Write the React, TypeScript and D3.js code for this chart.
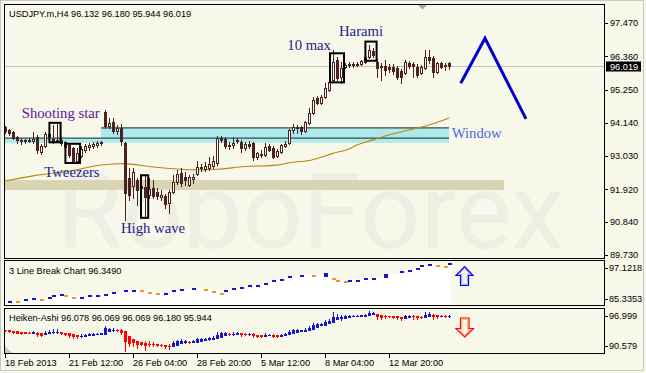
import React from "react";
import * as d3 from "d3";

// ---------- DATA ----------
const opens = [
  94.0, 93.9, 93.83, 93.66, 93.56, 93.53, 93.56, 93.53, 93.66, 93.16,
  93.36, 93.77, 93.6, 93.53, 93.56, 93.49, 93.39, 93.29, 92.86, 93.03,
  93.23, 93.33, 93.36, 93.39, 93.46, 94.5, 94.03, 94.16, 93.87, 93.96,
  93.46, 92.29, 92.03, 92.23, 91.96, 91.99, 91.73, 91.96, 91.83, 91.66,
  91.69, 91.46, 91.83, 92.16, 92.46, 92.33, 92.06, 92.26, 92.43, 92.63,
  92.59, 92.63, 92.69, 92.79, 93.63, 93.6, 93.36, 93.39, 93.56, 93.49,
  93.29, 93.43, 93.46, 92.99, 93.09, 93.06, 93.36, 93.29, 93.03, 93.16,
  93.36, 93.46, 93.9, 93.96, 94.0, 93.87, 94.13, 94.47, 94.97, 94.8,
  95.0, 95.23, 95.57, 96.24, 95.67, 96.0, 96.1, 96.07, 96.1, 96.1,
  96.17, 96.34, 96.54, 96.17, 96.0, 96.04, 96.0, 96.0, 95.97, 95.87,
  95.8, 96.14, 96.1, 96.0, 95.8, 95.97, 96.34, 96.3, 95.84, 96.14,
  96.07, 96.132,
];
const highs = [
  94.03, 93.93, 93.87, 93.7, 93.63, 93.6, 93.63, 93.83, 93.73, 93.43,
  93.83, 93.9, 94.06, 94.1, 93.63, 93.53, 93.43, 93.33, 93.29, 93.36,
  93.43, 93.46, 93.49, 93.53, 93.53, 94.57, 94.3, 94.3, 94.06, 94.1,
  93.49, 92.63, 92.63, 92.29, 92.13, 92.39, 92.29, 92.23, 91.96, 91.89,
  91.76, 91.89, 92.39, 92.56, 92.63, 92.49, 92.39, 92.43, 92.86, 92.76,
  92.83, 92.99, 93.03, 93.7, 93.7, 93.66, 93.49, 93.66, 93.63, 93.56,
  93.49, 93.53, 93.49, 93.16, 93.23, 93.46, 93.43, 93.36, 93.26, 93.43,
  93.53, 93.93, 94.1, 94.06, 94.03, 94.2, 94.63, 95.0, 95.03, 95.07,
  95.47, 95.57, 96.57, 96.34, 96.17, 96.14, 96.17, 96.17, 96.17, 96.24,
  96.37, 96.74, 96.64, 96.27, 96.14, 96.24, 96.1, 96.1, 96.04, 95.94,
  96.24, 96.2, 96.17, 96.1, 96.07, 96.57, 96.57, 96.37, 96.17, 96.17,
  96.14, 96.18,
];
const lows = [
  93.8, 93.73, 93.6, 93.46, 93.43, 93.46, 93.49, 93.46, 93.13, 93.09,
  93.33, 93.56, 93.46, 93.49, 93.39, 93.26, 92.99, 92.79, 92.83, 92.99,
  93.16, 93.23, 93.29, 93.33, 93.39, 93.96, 93.96, 93.8, 93.77, 93.39,
  90.89, 91.56, 91.63, 91.39, 91.73, 90.99, 91.63, 91.63, 91.59, 91.56,
  91.29, 91.13, 91.79, 92.09, 92.03, 92.06, 92.03, 92.13, 92.39, 92.53,
  92.53, 92.56, 92.63, 92.73, 93.49, 93.29, 93.26, 93.29, 93.46, 93.16,
  93.23, 93.29, 92.9, 92.93, 92.99, 93.03, 93.19, 92.96, 92.99, 93.13,
  93.33, 93.43, 93.8, 93.8, 93.77, 93.83, 94.1, 94.43, 94.77, 94.77,
  94.97, 95.2, 95.5, 95.57, 95.47, 95.97, 96.0, 96.0, 96.04, 96.07,
  96.14, 96.3, 96.34, 95.67, 95.57, 95.74, 95.84, 95.77, 95.6, 95.47,
  95.77, 95.97, 95.67, 95.67, 95.77, 95.94, 96.14, 95.67, 95.8, 95.97,
  95.9, 95.944,
];
const closes = [
  93.87, 93.8, 93.63, 93.56, 93.53, 93.56, 93.53, 93.6, 93.23, 93.36,
  93.77, 93.7, 93.53, 93.56, 93.46, 93.33, 93.06, 92.83, 93.13, 93.26,
  93.36, 93.39, 93.43, 93.46, 93.49, 94.03, 94.13, 93.87, 93.96, 93.53,
  91.79, 91.73, 92.49, 91.89, 92.03, 91.66, 91.93, 91.69, 91.69, 91.73,
  91.42, 91.83, 92.16, 92.43, 92.13, 92.23, 92.33, 92.33, 92.66, 92.66,
  92.69, 92.76, 92.86, 93.63, 93.56, 93.36, 93.39, 93.46, 93.53, 93.29,
  93.43, 93.36, 92.99, 93.13, 93.06, 93.33, 93.23, 92.99, 93.19, 93.39,
  93.43, 93.9, 94.0, 94.0, 93.87, 94.16, 94.47, 94.9, 94.8, 95.0,
  95.3, 95.5, 96.17, 95.64, 95.97, 96.07, 96.07, 96.1, 96.07, 96.2,
  96.34, 96.57, 96.4, 95.97, 96.04, 95.9, 95.94, 95.87, 95.67, 95.67,
  96.17, 96.04, 96.04, 95.74, 96.0, 96.34, 96.24, 95.84, 96.14, 96.0,
  96.04, 96.019,
];

const priceTicks = [97.47, 96.36, 95.25, 94.14, 93.03, 91.92, 90.84, 89.73];
const lastPrice = 96.019;
const dateTickIdx = [0, 16, 32, 48, 64, 80, 96];
const dateLabels = ["18 Feb 2013", "21 Feb 12:00", "26 Feb 04:00", "28 Feb 20:00", "5 Mar 12:00", "8 Mar 04:00", "12 Mar 20:00"];

// moving average read at sample bars
const maIdx = [0, 7, 16, 24, 30, 36, 43, 49, 53, 60, 68, 71, 76, 79, 82, 86, 88, 91, 95, 101, 106, 109, 111];
const maVal = [92.2, 92.37, 92.53, 92.73, 92.78, 92.68, 92.6, 92.57, 92.59, 92.68, 92.73, 92.81, 92.88, 92.99, 93.12, 93.27, 93.4, 93.53, 93.7, 93.9, 94.07, 94.2, 94.3];

// 3 line break bricks
const lbIdx = [1, 3, 5, 7, 9, 11, 12, 14, 15, 17, 19, 21, 23, 25, 27, 30, 32, 34, 36, 38, 40, 42, 44, 47, 50, 52, 54, 55, 57, 59, 61, 63, 65, 67, 69, 71, 74, 77, 80, 82, 83, 85, 86, 88, 90, 92, 95, 99, 101, 103, 104, 106, 108, 110, 111];
const lbOpen = [85.9, 86.19, 86.61, 86.89, 86.89, 86.89, 87.61, 88.03, 87.89, 87.46, 87.04, 87.46, 87.75, 88.03, 88.17, 88.88, 89.17, 89.31, 88.88, 88.46, 88.31, 88.88, 89.31, 89.59, 89.59, 89.03, 88.6, 88.74, 89.45, 89.88, 90.31, 90.59, 91.01, 91.73, 92.15, 92.72, 93.43, 93.71, 93.0, 92.58, 92.29, 91.87, 91.73, 92.01, 92.29, 92.58, 92.72, 94.42, 94.85, 95.42, 95.98, 96.41, 96.55, 96.13, 96.55];
const lbClose = [86.19, 85.62, 86.89, 87.18, 86.61, 87.46, 87.89, 88.31, 87.61, 87.18, 87.32, 87.75, 88.03, 88.31, 88.74, 89.17, 89.45, 89.03, 88.6, 88.17, 88.6, 89.17, 89.59, 89.88, 89.31, 88.74, 88.31, 89.31, 89.74, 90.16, 90.59, 90.87, 91.3, 92.01, 92.43, 93.29, 93.71, 93.0, 94.14, 92.29, 92.01, 91.58, 92.01, 92.29, 92.58, 92.86, 93.85, 94.7, 95.13, 95.7, 96.27, 96.69, 96.27, 95.84, 96.84];
const lbRange = [85.3353, 97.1218];
const haRange = [90.579, 96.999];

// pattern boxes (bar index span, price span)
const boxIdx0 = [11.1, 15.1, 34, 81.25, 90.1];
const boxIdx1 = [13.9, 18.75, 35.8, 84.75, 92.9];
const boxHi = [94.14, 93.44, 92.39, 96.46, 96.85];
const boxLo = [93.49, 92.8, 90.97, 95.49, 96.21];

const noteText = ["Shooting star", "Tweezers", "High wave", "10 max", "Harami", "Window"];
const noteIdx = [4.18, 9.83, 29, 70.58, 83.5, 111.68];
const notePrice = [94.3, 92.32, 90.48, 96.57, 97.05, 93.63];

const forecastIdx = [113.93, 120, 130.25];
const forecastPrice = [95.46, 96.96, 94.27];

// zones
const supportIdx = [0, 124.75];
const supportPrice = [92.23, 91.9];
const windowIdx = [24, 111];
const windowPrice = [93.97, 93.63, 93.47];

// ---------- STYLE ----------
const BG = "#f7f7ea";
const DARK = "#4a2222";
const SANS = "'Liberation Sans', Arial, sans-serif";
const SERIF = "'Liberation Serif', 'Times New Roman', serif";
const noteColor = ["#66139c", "#1b1b8f", "#1b1b8f", "#1b1b8f", "#1b1b8f", "#4a6bdf"];
const HA_UP = "#1414d2";
const HA_DN = "#ff0000";
const LB_UP = "#1414d2";
const LB_DN = "#f0962a";

export default function App() {
  React.useEffect(() => {
    document.body.style.margin = "0";
  }, []);

  const x = d3.scaleLinear().domain([0, 1]).range([5, 9]);
  const yMain = d3.scaleLinear().domain([89.73, 97.47]).range([255, 23]);
  const yLB = d3.scaleLinear().domain(lbRange).range([304, 262.5]);
  const yHA = d3.scaleLinear().domain(haRange).range([353, 309.5]);

  // Heiken-Ashi from candles
  const ha: { o: number; c: number; h: number; l: number }[] = [];
  opens.forEach((o, i) => {
    const c = (o + highs[i] + lows[i] + closes[i]) / 4;
    const ho = i === 0 ? (o + closes[0]) / 2 : (ha[i - 1].o + ha[i - 1].c) / 2;
    ha.push({ o: ho, c, h: Math.max(highs[i], ho, c), l: Math.min(lows[i], ho, c) });
  });

  const maLine = d3
    .line<number>()
    .x((_, k) => x(maIdx[k]))
    .y((v) => yMain(v))
    .curve(d3.curveMonotoneX)(maVal);

  const lbTop = lbIdx.map((_, k) => Math.max(lbOpen[k], lbClose[k]));
  const whitePts: [number, number][] = [[x(0), yLB(lbTop[0])]];
  lbIdx.forEach((idx, k) => {
    if (k > 0) whitePts.push([x(idx) - 1, yLB(lbTop[k])]);
  });
  whitePts.push([x(111) + 2.5, yLB(lbTop[lbTop.length - 1])]);
  const whiteArea = d3
    .area<[number, number]>()
    .x((d) => d[0])
    .y0(305)
    .y1((d) => d[1])
    .curve(d3.curveStepAfter)(whitePts);

  const forecast = d3
    .line<number>()
    .x((_, k) => x(forecastIdx[k]))
    .y((v) => yMain(v))(forecastPrice);

  const axisText = (t: string, xx: number, yy: number, key: string, fill = "#000") => (
    <text key={key} x={xx} y={yy} fontFamily={SANS} fontSize={9.2} fill={fill}>
      {t}
    </text>
  );

  const lastY = yMain(lastPrice);

  return (
    <>
      <style>{"body{margin:0}"}</style>
      <svg width={646} height={373} style={{ display: "block" }}>
        <rect x={0} y={0} width={646} height={373} fill={BG} />
        <rect x={0.5} y={0.5} width={643} height={370} fill="none" stroke="#c8c8c8" />
        <defs>
          <clipPath id="cMain">
            <rect x={5} y={5} width={599} height={253} />
          </clipPath>
          <clipPath id="cLB">
            <rect x={5} y={261} width={599} height={44} />
          </clipPath>
          <clipPath id="cHA">
            <rect x={5} y={309} width={599} height={44} />
          </clipPath>
        </defs>

        {/* ---------- MAIN PANEL ---------- */}
        <g clipPath="url(#cMain)">
          {/* watermark */}
          <text x={57} y={248} fontFamily="Roboto, 'Liberation Sans', sans-serif" fontSize={106} fill="#eeeee2">
            RoboForex
          </text>
          {/* support band */}
          <rect
            x={x(supportIdx[0])}
            y={yMain(supportPrice[0])}
            width={x(supportIdx[1]) - x(supportIdx[0])}
            height={yMain(supportPrice[1]) - yMain(supportPrice[0])}
            fill="#d9d5b2"
          />
          {/* window zone */}
          <rect
            x={x(windowIdx[0])}
            y={yMain(windowPrice[0])}
            width={x(windowIdx[1]) - x(windowIdx[0])}
            height={yMain(windowPrice[1]) - yMain(windowPrice[0])}
            fill="#aee9eb"
          />
          <rect
            x={x(0)}
            y={yMain(windowPrice[1])}
            width={x(windowIdx[1]) - x(0)}
            height={yMain(windowPrice[2]) - yMain(windowPrice[1])}
            fill="#aee9eb"
          />
          <line x1={x(windowIdx[0])} x2={x(windowIdx[1])} y1={yMain(windowPrice[0])} y2={yMain(windowPrice[0])} stroke="#2f4f4f" strokeWidth={1.3} />
          <line x1={x(0)} x2={x(windowIdx[1])} y1={yMain(windowPrice[1])} y2={yMain(windowPrice[1])} stroke="#2f4f4f" strokeWidth={1.3} />
          {/* bid line */}
          <line x1={5} x2={604} y1={Math.round(lastY) + 0.5} y2={Math.round(lastY) + 0.5} stroke="#c0c0c0" />
          {/* MA */}
          <path d={maLine || ""} fill="none" stroke="#b8860b" strokeWidth={1.1} />
          {/* candles */}
          <g shapeRendering="crispEdges">
            {opens.map((o, i) => {
              const cx = Math.round(x(i));
              const yo = Math.round(yMain(o));
              const yc = Math.round(yMain(closes[i]));
              const yh = Math.round(yMain(highs[i]));
              const yl = Math.round(yMain(lows[i]));
              const top = Math.min(yo, yc);
              const bot = Math.max(yo, yc);
              const bull = closes[i] > o;
              return (
                <g key={i}>
                  <rect x={cx} y={yh} width={1} height={Math.max(1, yl - yh + 1)} fill={DARK} />
                  <rect x={cx - 1} y={top} width={3} height={bot - top + 1} fill={DARK} />
                  {bull && bot - top >= 2 && <rect x={cx} y={top + 1} width={1} height={bot - top - 1} fill={BG} />}
                </g>
              );
            })}
          </g>
          {/* pattern boxes */}
          {boxIdx0.map((b, k) => (
            <rect
              key={k}
              x={x(b)}
              y={yMain(boxHi[k])}
              width={x(boxIdx1[k]) - x(b)}
              height={yMain(boxLo[k]) - yMain(boxHi[k])}
              fill="none"
              stroke="#000"
              strokeWidth={2}
            />
          ))}
          {/* notes */}
          {noteText.map((t, k) => (
            <text key={k} x={x(noteIdx[k])} y={yMain(notePrice[k])} fontFamily={SERIF} fontSize={14.7} fill={noteColor[k]}>
              {t}
            </text>
          ))}
          {/* forecast zigzag */}
          <path d={forecast || ""} fill="none" stroke="#0000cd" strokeWidth={3} strokeLinejoin="miter" />
          {/* chart shift marker */}
          <polygon points="418,5 427,5 422.5,9.5" fill="#a8a8a8" />
        </g>
        {axisText("USDJPY.m,H4  96.132 96.180 95.944 96.019", 9, 16.5, "title")}

        {/* ---------- 3 LINE BREAK ---------- */}
        <g clipPath="url(#cLB)">
          <path d={whiteArea || ""} fill="#ffffff" />
          <g shapeRendering="crispEdges">
            {lbIdx.map((idx, k) => {
              const cx = Math.round(x(idx));
              const t = Math.round(yLB(Math.max(lbOpen[k], lbClose[k])));
              const b = Math.round(yLB(Math.min(lbOpen[k], lbClose[k])));
              return (
                <rect key={k} x={cx - 1} y={t} width={4} height={Math.max(2, b - t)} fill={lbClose[k] > lbOpen[k] ? LB_UP : LB_DN} />
              );
            })}
          </g>
        </g>
        {axisText("3 Line Break Chart 96.3490", 9, 273.5, "lbt")}
        <g>
          <polygon points="464.5,266.5 473,275.5 468.5,275.5 468.5,285.5 460.5,285.5 460.5,275.5 456,275.5" fill="none" stroke="#0000ff" strokeWidth={1.2} />
          <polygon points="464.5,268.5 470.5,274.5 467.3,274.5 467.3,284.3 461.7,284.3 461.7,274.5 458.5,274.5" fill="none" stroke="#a9a0ff" strokeWidth={1} />
        </g>

        {/* ---------- HEIKEN ASHI ---------- */}
        <g clipPath="url(#cHA)" shapeRendering="crispEdges">
          {ha.map((d, i) => {
            const cx = Math.round(x(i));
            const yh = Math.round(yHA(d.h));
            const yl = Math.round(yHA(d.l));
            const yo = Math.round(yHA(d.o));
            const yc = Math.round(yHA(d.c));
            const col = d.c >= d.o ? HA_UP : HA_DN;
            const top = Math.min(yo, yc);
            const bot = Math.max(yo, yc);
            return (
              <g key={i} fill={col}>
                <rect x={cx} y={yh} width={1} height={Math.max(1, yl - yh + 1)} />
                <rect x={cx - 1} y={top} width={3} height={Math.max(1, bot - top + 1)} />
              </g>
            );
          })}
        </g>
        {axisText("Heiken-Ashi 96.078 96.069 96.069 96.180 95.944", 9, 321, "hat")}
        <g>
          <polygon points="460.5,318 469,318 469,328.5 473.5,328.5 464.75,337 456,328.5 460.5,328.5" fill="none" stroke="#ff0000" strokeWidth={1.2} />
          <polygon points="461.8,319.3 467.7,319.3 467.7,329.8 470.3,329.8 464.75,335 459.2,329.8 461.8,329.8" fill="none" stroke="#ffa860" strokeWidth={1} />
        </g>
        <polygon points="5,346 5,353 12,353" fill="#c8c8c8" />

        {/* ---------- FRAMES ---------- */}
        <g fill="none" stroke="#000" shapeRendering="crispEdges">
          <rect x={4.5} y={4.5} width={600} height={254} />
          <rect x={4.5} y={260.5} width={600} height={45} />
          <rect x={4.5} y={308.5} width={600} height={45} />
        </g>

        {/* right axis main */}
        <g shapeRendering="crispEdges">
          {priceTicks.map((v, k) => (
            <line key={k} x1={605} x2={608} y1={Math.round(yMain(v)) + 0.5} y2={Math.round(yMain(v)) + 0.5} stroke="#000" />
          ))}
          {[yLB(lbRange[1]) + 5.5, yLB(lbRange[0]) - 5, yHA(haRange[1]) + 6.5, yHA(haRange[0]) - 7].map((yy, k) => (
            <line key={"s" + k} x1={605} x2={608} y1={Math.round(yy) + 0.5} y2={Math.round(yy) + 0.5} stroke="#000" />
          ))}
          {dateTickIdx.map((idx, k) => (
            <line key={"d" + k} x1={Math.round(x(idx)) + 0.5} x2={Math.round(x(idx)) + 0.5} y1={354} y2={357.5} stroke="#000" />
          ))}
        </g>
        {priceTicks.map((v, k) => axisText(v.toFixed(3), 610, yMain(v) + 3.4, "p" + k))}
        <rect x={606} y={Math.round(lastY) - 4.5} width={35} height={10} fill="#000" />
        {axisText(lastPrice.toFixed(3), 610, lastY + 3.6, "lp", "#fff")}
        {axisText(lbRange[1].toFixed(4), 609, yLB(lbRange[1]) + 5.5 + 3.4, "lb1")}
        {axisText(lbRange[0].toFixed(4), 609, yLB(lbRange[0]) - 5 + 3.4, "lb0")}
        {axisText(haRange[1].toFixed(3), 609, yHA(haRange[1]) + 6.5 + 3.4, "ha1")}
        {axisText(haRange[0].toFixed(3), 609, yHA(haRange[0]) - 7 + 3.4, "ha0")}
        {dateLabels.map((t, k) => axisText(t, Math.round(x(dateTickIdx[k])), 365.5, "dl" + k))}
      </svg>
    </>
  );
}
